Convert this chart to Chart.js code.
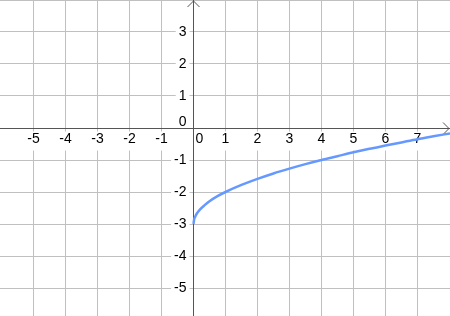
<!DOCTYPE html>
<html>
<head>
<meta charset="utf-8">
<script src="https://cdn.jsdelivr.net/npm/chart.js@4/dist/chart.umd.min.js"></script>
<style>
  html, body { margin: 0; padding: 0; background: #fff; }
  canvas { display: block; }
</style>
</head>
<body>
<canvas id="chart" width="450" height="316"></canvas>
<script>
// Curve points
const curveX = [0, 0.02, 0.05, 0.1, 0.2, 0.35, 0.5, 0.75, 1, 1.5, 2, 2.5, 3, 3.5, 4, 4.5, 5, 5.5, 6, 6.5, 7, 7.5, 8.02]
const curveY = [-3, -2.86, -2.78, -2.68, -2.55, -2.41, -2.29, -2.13, -2, -1.78, -1.59, -1.42, -1.27, -1.13, -1, -0.88, -0.76, -0.65, -0.55, -0.45, -0.35, -0.26, -0.17]

// Axis tick labels
const xTicks = [-5, -4, -3, -2, -1, 0, 1, 2, 3, 4, 5, 6, 7]
const yTicks = [-5, -4, -3, -2, -1, 0, 1, 2, 3]

const gridColor = '#c0c0c0'
const axisColor = '#555555'
const labelFont = '14px "Liberation Sans", Arial, sans-serif'

const fmt = v => String(v)

// Grid line colour: only whole numbers, axis lines drawn separately
const gridLine = ctx => {
  const v = ctx.tick && ctx.tick.value
  if (v === 0 || Math.abs(v - Math.round(v)) > 1e-6) return 'rgba(0,0,0,0)'
  return gridColor
}

// Draws axes, arrows and labels inside the plot like a graphing tool
const axesPlugin = {
  id: 'axesPlugin',
  beforeDatasetsDraw (chart) {
    const { ctx, chartArea, scales } = chart
    const x0 = Math.round(scales.x.getPixelForValue(0)) + 0.5
    const y0 = Math.round(scales.y.getPixelForValue(0)) + 0.5
    ctx.save()
    ctx.font = labelFont
    ctx.textBaseline = 'middle'

    // x labels
    ctx.textAlign = 'center'
    xTicks.forEach(v => {
      const txt = fmt(v)
      let px = scales.x.getPixelForValue(v)
      if (v === 0) px += 6
      const w = ctx.measureText(txt).width
      ctx.fillStyle = '#fff'
      ctx.fillRect(px - w / 2 - 3, y0 + 3, w + 6, 19)
      ctx.fillStyle = '#000'
      ctx.fillText(txt, px, y0 + 11)
    })

    // y labels
    ctx.textAlign = 'right'
    yTicks.forEach(v => {
      const txt = fmt(v)
      let py = scales.y.getPixelForValue(v)
      if (v === 0) py -= 6
      const w = ctx.measureText(txt).width
      ctx.fillStyle = '#fff'
      if (v !== 0) ctx.fillRect(x0 - 7 - w - 3, py - 9, w + 6, 18)
      ctx.fillStyle = '#000'
      ctx.fillText(txt, x0 - 7, py)
    })

    // axes
    ctx.strokeStyle = axisColor
    ctx.lineWidth = 1
    ctx.beginPath()
    ctx.moveTo(chartArea.left, y0)
    ctx.lineTo(chartArea.right, y0)
    ctx.moveTo(x0, chartArea.top)
    ctx.lineTo(x0, chartArea.bottom)
    ctx.stroke()

    // arrow heads
    ctx.beginPath()
    ctx.moveTo(chartArea.right - 7, y0 - 6)
    ctx.lineTo(chartArea.right - 1, y0)
    ctx.lineTo(chartArea.right - 7, y0 + 6)
    ctx.moveTo(x0 - 6, chartArea.top + 7)
    ctx.lineTo(x0, chartArea.top + 1)
    ctx.lineTo(x0 + 6, chartArea.top + 7)
    ctx.stroke()
    ctx.restore()
  }
}

const points = curveX.map((x, i) => ({ x, y: curveY[i] }))

new Chart(document.querySelector('#chart').getContext('2d'), {
  type: 'line',
  data: {
    datasets: [
      {
        data: points,
        borderColor: '#6699ff',
        borderWidth: 2.5,
        pointRadius: 0,
        cubicInterpolationMode: 'monotone',
        fill: false
      }
    ]
  },
  options: {
    responsive: false,
    animation: false,
    devicePixelRatio: 1,
    layout: { padding: 0 },
    plugins: {
      legend: { display: false },
      tooltip: { enabled: false }
    },
    scales: {
      x: {
        type: 'linear',
        min: -6.05,
        max: 8.02,
        ticks: { display: false, stepSize: 1 },
        border: { display: false },
        grid: { color: gridLine, drawTicks: false, lineWidth: 1 }
      },
      y: {
        type: 'linear',
        min: -5.875,
        max: 4,
        ticks: { display: false, stepSize: 1 },
        border: { display: false },
        grid: { color: gridLine, drawTicks: false, lineWidth: 1 }
      }
    }
  },
  plugins: [axesPlugin]
})
</script>
</body>
</html>
